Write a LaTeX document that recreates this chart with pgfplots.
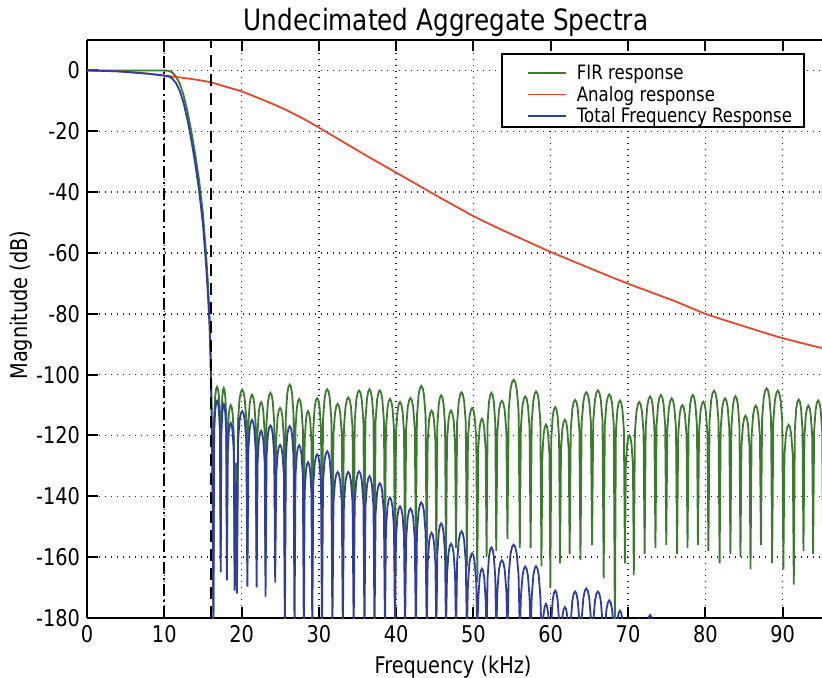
\documentclass[border=0pt]{standalone}
\usepackage{fontspec}
\setmainfont{DejaVu Sans}[FakeStretch=0.84]
\usepackage{pgfplots}
\pgfplotsset{compat=1.18}
\definecolor{firgreen}{HTML}{3C7A2E}
\definecolor{anared}{HTML}{E8472B}
\definecolor{totblue}{HTML}{2F3E9E}

\begin{document}
\begin{tikzpicture}
\begin{axis}[
  scale only axis, width=367.5pt, height=289pt,
  xmin=0, xmax=95.1, ymin=-180, ymax=10,
  axis x line*=box, axis y line*=left,
  axis line style={-, line width=1pt, black},
  xtick={0,10,...,90}, ytick={-180,-160,...,0},
  major tick length=5.5pt, tick style={line width=1pt, black},
  tick align=inside,
  /pgf/number format/assume math mode=true,
  ticklabel style={font=\fontsize{11.5}{13}\selectfont},
  grid=major,
  major grid style={black!85, line width=0.7pt, dash pattern=on 0.7pt off 2.3pt},
  title={Undecimated Aggregate Spectra},
  title style={font=\fontsize{14.7}{17}\selectfont, at={(axis description cs:0.4884,1)}, anchor=base, yshift=-1pt},
  xlabel={Frequency (kHz)},
  xlabel style={font=\fontsize{11.5}{13}\selectfont, at={(axis description cs:0.498,0)}, anchor=base, yshift=-27.5pt},
  ylabel={Magnitude (dB)},
  ylabel style={font=\fontsize{11.5}{13}\selectfont, at={(axis description cs:-0.0816,0.5415)}, anchor=base},
  legend style={at={(axis description cs:0.9769,0.9775)}, anchor=north east,
    draw=black, line width=1pt, fill=white,
    font=\fontsize{9.9}{11}\selectfont, inner xsep=4pt, inner ysep=2pt,
    cells={anchor=west},
    nodes={inner xsep=2pt, inner ysep=0pt, text height=10.8pt, text depth=0pt}},
  legend image code/.code={\path[draw=none, fill=none] (0pt,0pt) -- (31.5pt,0pt); \draw[#1, line width=0.8pt] (9pt,-2pt) -- (28pt,-2pt);},
]

% FIR response
\addplot[color=firgreen, line width=0.9pt] coordinates {
(0,0)(4,0)(8,0)(10,0)(10.5,-0.1)(11,-0.6)(11.5,-1.9)(12,-4.3)(12.5,-8.2)(13,-13.5)(13.5,-20)(14,-27.5)(14.5,-36)(15,-47)(15.4,-60)(15.65,-70)(15.85,-80)(15.97,-90)(16.05,-100)(16.15,-115)(16.25,-135)(16.35,-178)
(16.45,-114)(16.59,-107)(16.71,-104.7)(16.83,-104)(16.95,-104.7)(17.06,-107)(17.2,-114)(17.3,-160)
(17.38,-114.4)(17.5,-107.4)(17.6,-105.1)(17.7,-104.4)(17.8,-105.1)(17.9,-107.4)(18.02,-114.4)(18.1,-162)
(18.2,-120)(18.35,-113)(18.48,-110.7)(18.6,-110)(18.73,-110.7)(18.85,-113)(19.0,-120)(19.1,-162)
(19.15,-140)(19.25,-129)(19.35,-140)(19.4,-163)
(19.54,-115)(19.74,-108)(19.91,-105.7)(20.08,-105)(20.25,-105.7)(20.41,-108)(20.62,-115)(20.75,-162)
(20.87,-116.6)(21.05,-109.6)(21.2,-107.3)(21.35,-106.6)(21.5,-107.3)(21.65,-109.6)(21.83,-116.6)(21.95,-161)
(22.07,-119)(22.24,-112)(22.39,-109.7)(22.53,-109)(22.67,-109.7)(22.81,-112)(22.99,-119)(23.1,-163)
(23.23,-116)(23.41,-109)(23.57,-106.7)(23.73,-106)(23.89,-106.7)(24.04,-109)(24.23,-116)(24.35,-157)
(24.48,-121)(24.66,-114)(24.82,-111.7)(24.98,-111)(25.14,-111.7)(25.29,-114)(25.48,-121)(25.6,-168)
(25.73,-113.3)(25.91,-106.3)(26.07,-104)(26.23,-103.3)(26.39,-104)(26.54,-106.3)(26.73,-113.3)(26.85,-164)
(26.97,-118)(27.15,-111)(27.3,-108.7)(27.45,-108)(27.6,-108.7)(27.75,-111)(27.93,-118)(28.05,-158)
(28.16,-122)(28.33,-115)(28.46,-112.7)(28.6,-112)(28.74,-112.7)(28.88,-115)(29.04,-122)(29.15,-166)
(29.28,-117.7)(29.46,-110.7)(29.62,-108.4)(29.78,-107.7)(29.94,-108.4)(30.09,-110.7)(30.28,-117.7)(30.4,-160)
(30.54,-114.8)(30.74,-107.8)(30.91,-105.5)(31.08,-104.8)(31.25,-105.5)(31.41,-107.8)(31.62,-114.8)(31.75,-163)
(31.89,-119.6)(32.09,-112.6)(32.26,-110.3)(32.43,-109.6)(32.6,-110.3)(32.76,-112.6)(32.97,-119.6)(33.1,-157)
(33.24,-117.5)(33.45,-110.5)(33.63,-108.2)(33.8,-107.5)(33.98,-108.2)(34.15,-110.5)(34.36,-117.5)(34.5,-165)
(34.64,-115.2)(34.85,-108.2)(35.03,-105.9)(35.2,-105.2)(35.38,-105.9)(35.55,-108.2)(35.76,-115.2)(35.9,-160)
(36.03,-114.8)(36.23,-107.8)(36.39,-105.5)(36.55,-104.8)(36.71,-105.5)(36.88,-107.8)(37.07,-114.8)(37.2,-163)
(37.34,-115.2)(37.54,-108.2)(37.71,-105.9)(37.88,-105.2)(38.05,-105.9)(38.21,-108.2)(38.42,-115.2)(38.55,-158)
(38.68,-118)(38.88,-111)(39.04,-108.7)(39.2,-108)(39.36,-108.7)(39.53,-111)(39.72,-118)(39.85,-166)
(39.98,-119)(40.18,-112)(40.34,-109.7)(40.5,-109)(40.66,-109.7)(40.83,-112)(41.02,-119)(41.15,-161)
(41.29,-117.7)(41.5,-110.7)(41.68,-108.4)(41.85,-107.7)(42.03,-108.4)(42.2,-110.7)(42.41,-117.7)(42.55,-155)
(42.69,-113.7)(42.9,-106.7)(43.08,-104.4)(43.25,-103.7)(43.43,-104.4)(43.6,-106.7)(43.81,-113.7)(43.95,-162)
(44.08,-121.8)(44.26,-114.8)(44.42,-112.5)(44.58,-111.8)(44.74,-112.5)(44.89,-114.8)(45.08,-121.8)(45.2,-159)
(45.33,-116.8)(45.51,-109.8)(45.67,-107.5)(45.83,-106.8)(45.99,-107.5)(46.14,-109.8)(46.33,-116.8)(46.45,-164)
(46.58,-121.8)(46.78,-114.8)(46.94,-112.5)(47.1,-111.8)(47.26,-112.5)(47.43,-114.8)(47.62,-121.8)(47.75,-157)
(47.89,-115.8)(48.1,-108.8)(48.28,-106.5)(48.45,-105.8)(48.63,-106.5)(48.8,-108.8)(49.01,-115.8)(49.15,-163)
(49.29,-121)(49.49,-114)(49.66,-111.7)(49.83,-111)(50.0,-111.7)(50.16,-114)(50.37,-121)(50.5,-168)
(50.62,-124.5)(50.8,-117.5)(50.95,-115.2)(51.1,-114.5)(51.25,-115.2)(51.4,-117.5)(51.58,-124.5)(51.7,-160)
(51.83,-116)(52.01,-109)(52.17,-106.7)(52.33,-106)(52.49,-106.7)(52.64,-109)(52.83,-116)(52.95,-158)
(53.1,-118.6)(53.31,-111.6)(53.5,-109.3)(53.68,-108.6)(53.86,-109.3)(54.04,-111.6)(54.26,-118.6)(54.4,-154)
(54.56,-111.7)(54.8,-104.7)(55.0,-102.4)(55.2,-101.7)(55.4,-102.4)(55.6,-104.7)(55.84,-111.7)(56.0,-157)
(56.14,-117.2)(56.35,-110.2)(56.53,-107.9)(56.7,-107.2)(56.88,-107.9)(57.05,-110.2)(57.26,-117.2)(57.4,-157)
(57.54,-115.5)(57.75,-108.5)(57.93,-106.2)(58.1,-105.5)(58.28,-106.2)(58.45,-108.5)(58.66,-115.5)(58.8,-163)
(58.92,-126.4)(59.09,-119.4)(59.24,-117.1)(59.38,-116.4)(59.52,-117.1)(59.66,-119.4)(59.84,-126.4)(59.95,-170)
(60.08,-120.7)(60.26,-113.7)(60.42,-111.4)(60.58,-110.7)(60.74,-111.4)(60.89,-113.7)(61.08,-120.7)(61.2,-162)
(61.33,-124.8)(61.51,-117.8)(61.67,-115.5)(61.83,-114.8)(61.99,-115.5)(62.14,-117.8)(62.33,-124.8)(62.45,-159)
(62.59,-118.3)(62.8,-111.3)(62.98,-109)(63.15,-108.3)(63.33,-109)(63.5,-111.3)(63.71,-118.3)(63.85,-161)
(64.0,-115.8)(64.23,-108.8)(64.41,-106.5)(64.6,-105.8)(64.79,-106.5)(64.98,-108.8)(65.2,-115.8)(65.35,-156)
(65.5,-115.2)(65.73,-108.2)(65.91,-105.9)(66.1,-105.2)(66.29,-105.9)(66.48,-108.2)(66.7,-115.2)(66.85,-167)
(67.0,-116.5)(67.21,-109.5)(67.4,-107.2)(67.58,-106.5)(67.76,-107.2)(67.94,-109.5)(68.16,-116.5)(68.3,-185)
(68.43,-118.5)(68.63,-111.5)(68.79,-109.2)(68.95,-108.5)(69.11,-109.2)(69.28,-111.5)(69.47,-118.5)(69.6,-162)
(69.72,-130)(69.89,-123)(70.04,-120.7)(70.18,-120)(70.32,-120.7)(70.46,-123)(70.64,-130)(70.75,-166)
(70.89,-119)(71.1,-112)(71.28,-109.7)(71.45,-109)(71.63,-109.7)(71.8,-112)(72.01,-119)(72.15,-159)
(72.29,-117.2)(72.5,-110.2)(72.68,-107.9)(72.85,-107.2)(73.03,-107.9)(73.2,-110.2)(73.41,-117.2)(73.55,-157)
(73.69,-116.7)(73.9,-109.7)(74.08,-107.4)(74.25,-106.7)(74.43,-107.4)(74.6,-109.7)(74.81,-116.7)(74.95,-156)
(75.09,-117.8)(75.3,-110.8)(75.48,-108.5)(75.65,-107.8)(75.83,-108.5)(76.0,-110.8)(76.21,-117.8)(76.35,-159)
(76.49,-120)(76.69,-113)(76.86,-110.7)(77.03,-110)(77.2,-110.7)(77.36,-113)(77.57,-120)(77.7,-157)
(77.84,-116.7)(78.04,-109.7)(78.21,-107.4)(78.38,-106.7)(78.55,-107.4)(78.71,-109.7)(78.92,-116.7)(79.05,-156)
(79.19,-118.9)(79.39,-111.9)(79.56,-109.6)(79.73,-108.9)(79.9,-109.6)(80.06,-111.9)(80.27,-118.9)(80.4,-158)
(80.55,-115.3)(80.76,-108.3)(80.95,-106)(81.13,-105.3)(81.31,-106)(81.49,-108.3)(81.71,-115.3)(81.85,-162)
(81.99,-117.8)(82.2,-110.8)(82.38,-108.5)(82.55,-107.8)(82.73,-108.5)(82.9,-110.8)(83.11,-117.8)(83.25,-159)
(83.38,-117.1)(83.58,-110.1)(83.74,-107.8)(83.9,-107.1)(84.06,-107.8)(84.23,-110.1)(84.42,-117.1)(84.55,-160)
(84.68,-123.5)(84.88,-116.5)(85.04,-114.2)(85.2,-113.5)(85.36,-114.2)(85.53,-116.5)(85.72,-123.5)(85.85,-164)
(85.99,-120.2)(86.19,-113.2)(86.36,-110.9)(86.53,-110.2)(86.7,-110.9)(86.86,-113.2)(87.07,-120.2)(87.2,-156)
(87.35,-114.5)(87.56,-107.5)(87.75,-105.2)(87.93,-104.5)(88.11,-105.2)(88.29,-107.5)(88.51,-114.5)(88.65,-162)
(88.8,-115.3)(89.01,-108.3)(89.2,-106)(89.38,-105.3)(89.56,-106)(89.74,-108.3)(89.96,-115.3)(90.1,-164)
(90.24,-126.5)(90.44,-119.5)(90.61,-117.2)(90.78,-116.5)(90.95,-117.2)(91.11,-119.5)(91.32,-126.5)(91.45,-169)
(91.58,-118.2)(91.76,-111.2)(91.92,-108.9)(92.08,-108.2)(92.24,-108.9)(92.39,-111.2)(92.58,-118.2)(92.7,-158)
(92.83,-120.2)(93.01,-113.2)(93.17,-110.9)(93.33,-110.2)(93.49,-110.9)(93.64,-113.2)(93.83,-120.2)(93.95,-159)
(94.08,-118.5)(94.28,-111.5)(94.44,-109.2)(94.6,-108.5)(94.76,-109.2)(94.93,-111.5)(95.12,-118.5)(95.25,-160)
};
\addlegendentry{FIR response}

% analog front end
\addplot[color=anared, line width=0.9pt, smooth] coordinates {
(0,0)(2,-0.1)(4,-0.3)(6,-0.6)(8,-1.1)(10,-1.7)(12,-2.3)(14,-3.0)(16,-3.9)(18,-5.4)(20,-6.9)
(22,-8.9)(24,-11.0)(26,-13.3)(28,-15.9)(30,-18.8)(32,-21.8)(34,-24.8)(36,-27.8)(38,-30.7)
(40,-33.6)(42,-36.5)(44,-39.4)(46,-42.3)(48,-45.1)(50,-47.9)(52,-50.4)(54,-52.8)(56,-55.1)
(58,-57.4)(60,-59.7)(62,-61.8)(64,-63.9)(66,-66.0)(68,-68.1)(70,-70.1)(72,-72.0)(74,-73.9)
(76,-75.8)(78,-77.9)(80,-80.0)(82,-81.7)(84,-83.3)(86,-84.9)(88,-86.5)(90,-88.0)(92,-89.3)
(94,-90.6)(96,-91.8)
};
\addlegendentry{Analog response}

% total response
\addplot[color=totblue, line width=0.9pt] coordinates {
(0,0)(4,-0.3)(8,-1.1)(10,-1.7)(10.5,-1.9)(11,-2.6)(11.5,-4.1)(12,-6.7)(12.5,-10.7)(13,-16.2)(13.5,-22.9)(14,-30.6)(14.5,-39.4)(15,-50.6)(15.4,-63.7)(15.65,-73.8)(15.85,-83.9)(15.97,-93.9)(16.05,-103.9)(16.15,-119)(16.25,-139)(16.35,-185)
(16.45,-118.6)(16.59,-111.6)(16.71,-109.3)(16.83,-108.6)(16.95,-109.3)(17.06,-111.6)(17.2,-118.6)(17.3,-165)
(17.38,-119.7)(17.5,-112.7)(17.6,-110.4)(17.7,-109.7)(17.8,-110.4)(17.9,-112.7)(18.02,-119.7)(18.1,-167.6)
(18.2,-125.9)(18.35,-118.9)(18.48,-116.6)(18.6,-115.9)(18.73,-116.6)(18.85,-118.9)(19.0,-125.9)(19.1,-171)
(19.15,-146.4)(19.25,-135.4)(19.35,-146.4)(19.4,-172)
(19.54,-122)(19.74,-115)(19.91,-112.7)(20.08,-112)(20.25,-112.7)(20.41,-115)(20.62,-122)(20.75,-169.7)
(20.87,-124.9)(21.05,-117.9)(21.2,-115.6)(21.35,-114.9)(21.5,-115.6)(21.65,-117.9)(21.83,-124.9)(21.95,-169.9)
(22.07,-128.5)(22.24,-121.5)(22.39,-119.2)(22.53,-118.5)(22.67,-119.2)(22.81,-121.5)(22.99,-128.5)(23.1,-173)
(23.23,-126.7)(23.41,-119.7)(23.57,-117.4)(23.73,-116.7)(23.89,-117.4)(24.04,-119.7)(24.23,-126.7)(24.35,-168.4)
(24.48,-133.1)(24.66,-126.1)(24.82,-123.8)(24.98,-123.1)(25.14,-123.8)(25.29,-126.1)(25.48,-133.1)(25.6,-185)
(25.73,-126.9)(25.91,-119.9)(26.07,-117.6)(26.23,-116.9)(26.39,-117.6)(26.54,-119.9)(26.73,-126.9)(26.85,-185)
(26.97,-133.2)(27.15,-126.2)(27.3,-123.9)(27.45,-123.2)(27.6,-123.9)(27.75,-126.2)(27.93,-133.2)(28.05,-185)
(28.16,-138.8)(28.33,-131.8)(28.46,-129.5)(28.6,-128.8)(28.74,-129.5)(28.88,-131.8)(29.04,-138.8)(29.15,-185)
(29.28,-136.2)(29.46,-129.2)(29.62,-126.9)(29.78,-126.2)(29.94,-126.9)(30.09,-129.2)(30.28,-136.2)(30.4,-185)
(30.54,-135.2)(30.74,-128.2)(30.91,-125.9)(31.08,-125.2)(31.25,-125.9)(31.41,-128.2)(31.62,-135.2)(31.75,-185)
(31.89,-142)(32.09,-135)(32.26,-132.7)(32.43,-132)(32.6,-132.7)(32.76,-135)(32.97,-142)(33.1,-185)
(33.24,-142)(33.45,-135)(33.63,-132.7)(33.8,-132)(33.98,-132.7)(34.15,-135)(34.36,-142)(34.5,-185)
(34.64,-141.8)(34.85,-134.8)(35.03,-132.5)(35.2,-131.8)(35.38,-132.5)(35.55,-134.8)(35.76,-141.8)(35.9,-185)
(36.03,-143.4)(36.23,-136.4)(36.39,-134.1)(36.55,-133.4)(36.71,-134.1)(36.88,-136.4)(37.07,-143.4)(37.2,-185)
(37.34,-145.7)(37.54,-138.7)(37.71,-136.4)(37.88,-135.7)(38.05,-136.4)(38.21,-138.7)(38.42,-145.7)(38.55,-185)
(38.68,-150.4)(38.88,-143.4)(39.04,-141.1)(39.2,-140.4)(39.36,-141.1)(39.53,-143.4)(39.72,-150.4)(39.85,-185)
(39.98,-153.3)(40.18,-146.3)(40.34,-144)(40.5,-143.3)(40.66,-144)(40.83,-146.3)(41.02,-153.3)(41.15,-185)
(41.29,-154)(41.5,-147)(41.68,-144.7)(41.85,-144)(42.03,-144.7)(42.2,-147)(42.41,-154)(42.55,-185)
(42.69,-152)(42.9,-145)(43.08,-142.7)(43.25,-142)(43.43,-142.7)(43.6,-145)(43.81,-152)(43.95,-185)
(44.08,-162)(44.26,-155)(44.42,-152.7)(44.58,-152)(44.74,-152.7)(44.89,-155)(45.08,-162)(45.2,-185)
(45.33,-158.9)(45.51,-151.9)(45.67,-149.6)(45.83,-148.9)(45.99,-149.6)(46.14,-151.9)(46.33,-158.9)(46.45,-185)
(46.58,-165.6)(46.78,-158.6)(46.94,-156.3)(47.1,-155.6)(47.26,-156.3)(47.43,-158.6)(47.62,-165.6)(47.75,-185)
(47.89,-161.5)(48.1,-154.5)(48.28,-152.2)(48.45,-151.5)(48.63,-152.2)(48.8,-154.5)(49.01,-161.5)(49.15,-185)
(49.29,-168.7)(49.49,-161.7)(49.66,-159.4)(49.83,-158.7)(50.0,-159.4)(50.16,-161.7)(50.37,-168.7)(50.5,-185)
(50.62,-173.8)(50.8,-166.8)(50.95,-164.5)(51.1,-163.8)(51.25,-164.5)(51.4,-166.8)(51.58,-173.8)(51.7,-185)
(51.83,-166.8)(52.01,-159.8)(52.17,-157.5)(52.33,-156.8)(52.49,-157.5)(52.64,-159.8)(52.83,-166.8)(52.95,-185)
(53.1,-171)(53.31,-164)(53.5,-161.7)(53.68,-161)(53.86,-161.7)(54.04,-164)(54.26,-171)(54.4,-185)
(54.56,-165.9)(54.8,-158.9)(55.0,-156.6)(55.2,-155.9)(55.4,-156.6)(55.6,-158.9)(55.84,-165.9)(56.0,-185)
(56.14,-173.1)(56.35,-166.1)(56.53,-163.8)(56.7,-163.1)(56.88,-163.8)(57.05,-166.1)(57.26,-173.1)(57.4,-185)
(57.54,-173)(57.75,-166)(57.93,-163.7)(58.1,-163)(58.28,-163.7)(58.45,-166)(58.66,-173)(58.8,-185)
(58.92,-185.4)(59.09,-178.4)(59.24,-176.1)(59.38,-175.4)(59.52,-176.1)(59.66,-178.4)(59.84,-185.4)(59.95,-190)
(60.08,-181)(60.26,-174)(60.42,-171.7)(60.58,-171)(60.74,-171.7)(60.89,-174)(61.08,-181)(61.2,-190)
(61.33,-186.4)(61.51,-179.4)(61.67,-177.1)(61.83,-176.4)(61.99,-177.1)(62.14,-179.4)(62.33,-186.4)(62.45,-190)
(62.59,-181.3)(62.8,-174.3)(62.98,-172)(63.15,-171.3)(63.33,-172)(63.5,-174.3)(63.71,-181.3)(63.85,-190)
(64.0,-180.3)(64.23,-173.3)(64.41,-171)(64.6,-170.3)(64.79,-171)(64.98,-173.3)(65.2,-180.3)(65.35,-190)
(65.5,-181.3)(65.73,-174.3)(65.91,-172)(66.1,-171.3)(66.29,-172)(66.48,-174.3)(66.7,-181.3)(66.85,-190)
(67.0,-184.2)(67.21,-177.2)(67.4,-174.9)(67.58,-174.2)(67.76,-174.9)(67.94,-177.2)(68.16,-184.2)(68.3,-190)
(68.43,-187.6)(68.63,-180.6)(68.79,-178.3)(68.95,-177.6)(69.11,-178.3)(69.28,-180.6)(69.47,-187.6)(69.6,-190)
(70.75,-190)
(70.89,-190.5)(71.1,-183.5)(71.28,-181.2)(71.45,-180.5)(71.63,-181.2)(71.8,-183.5)(72.01,-190.5)(72.15,-190)
(72.29,-189)(72.5,-182)(72.68,-179.7)(72.85,-179)(73.03,-179.7)(73.2,-182)(73.41,-189)(73.55,-190)
};
\addlegendentry{Total Frequency Response}

% passband and stopband edges
\addplot[forget plot, black, line width=1pt, dash pattern=on 6pt off 2pt on 1pt off 2pt] coordinates {(10,-180)(10,10)};
\addplot[forget plot, black, line width=1pt, dash pattern=on 6pt off 3.5pt] coordinates {(16,-180)(16,10)};
\end{axis}
\pgfresetboundingbox
\path[use as bounding box] (-43.5pt,-29.5pt) rectangle (367.5pt,309pt);
\end{tikzpicture}
\end{document}
